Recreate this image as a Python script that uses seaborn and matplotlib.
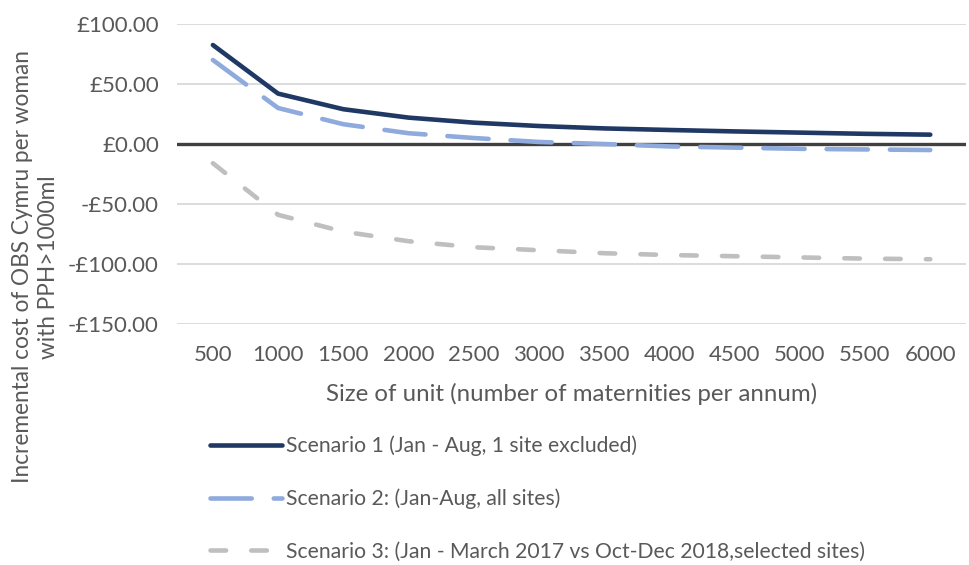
import matplotlib
matplotlib.use("Agg")
import matplotlib.pyplot as plt
import seaborn as sns
import pandas as pd
from matplotlib.ticker import FuncFormatter
from matplotlib.lines import Line2D

# Unit sizes (maternities per annum)
unit_sizes = [500, 1000, 1500, 2000, 2500, 3000, 3500, 4000, 4500, 5000, 5500, 6000]

# Incremental cost per woman with PPH>1000ml (£)
scenario_1 = [82.5, 42.0, 29.0, 22.0, 17.8, 15.0, 13.0, 11.7, 10.5, 9.5, 8.5, 7.8]
scenario_2 = [70.0, 30.0, 16.5, 9.0, 5.0, 1.7, 0.0, -2.0, -3.0, -4.0, -4.5, -5.0]
scenario_3 = [-16.0, -59.0, -73.0, -81.0, -86.0, -88.5, -91.0, -92.5, -93.5, -94.5, -95.5, -96.0]

series_names = [
    "Scenario 1 (Jan - Aug, 1 site excluded)",
    "Scenario 2: (Jan-Aug, all sites)",
    "Scenario 3: (Jan - March 2017 vs Oct-Dec 2018,selected sites)",
]
y_ticks = [100, 50, 0, -50, -100, -150]

colors = ["#203864", "#8faadc", "#bfbfbf"]
palette = dict(zip(series_names, colors))
dash_styles = [(), (9.0, 4.8), (3.4, 5.5)]
dash_map = dict(zip(series_names, [""] + dash_styles[1:]))

df = pd.concat([
    pd.DataFrame({"size": unit_sizes, "cost": vals, "scenario": name})
    for name, vals in zip(series_names, [scenario_1, scenario_2, scenario_3])
])

sns.set_style("white")
plt.rcParams["font.family"] = ["Lato", "DejaVu Sans"]
plt.rcParams["lines.dash_capstyle"] = "round"
plt.rcParams["lines.solid_capstyle"] = "round"

fig = plt.figure(figsize=(9.7, 5.65), dpi=100)
ax = fig.add_axes([0.1825, 0.4265, 0.8135, 0.531])

text_color = "#595959"
line_width = 3.3

# grid lines behind the series
for v in y_ticks:
    if v == 0:
        continue
    ax.axhline(v, color="#d9d9d9", lw=1.3, zorder=0)
ax.axhline(0, color="#404040", lw=2.4, zorder=1)

sns.lineplot(
    data=df, x="size", y="cost", hue="scenario", style="scenario",
    palette=palette, dashes=dash_map, linewidth=line_width, ax=ax, legend=False,
    hue_order=series_names[::-1], style_order=series_names[::-1], zorder=3,
)

ax.set_xlim(225, 6275)
ax.set_ylim(-150, 100)
ax.set_xticks(unit_sizes)
ax.set_xticklabels([str(s) for s in unit_sizes])
ax.set_yticks(y_ticks)


def money(v, pos):
    return f"-£{abs(v):.2f}" if v < 0 else f"£{v:.2f}"


ax.yaxis.set_major_formatter(FuncFormatter(money))
ax.tick_params(axis="both", length=0, labelsize=16, colors=text_color)
ax.tick_params(axis="x", pad=15)
ax.tick_params(axis="y", pad=13)
for s in ax.spines.values():
    s.set_visible(False)

ax.set_xlabel("Size of unit (number of maternities per annum)", fontsize=17.3,
              color=text_color, labelpad=13)
ax.set_ylabel("Incremental cost of OBS Cymru per woman\nwith PPH>1000ml", fontsize=16.3,
              color=text_color, linespacing=1.3)
ax.yaxis.set_label_coords(-0.149, 0.19)

handles = [
    Line2D([], [], color=c, lw=line_width, dashes=d) if d
    else Line2D([], [], color=c, lw=line_width)
    for c, d in zip(colors, dash_styles)
]
fig.legend(handles, series_names, loc="upper left", bbox_to_anchor=(0.2165, 0.2285),
           frameon=False, fontsize=15.2, labelcolor=text_color, handlelength=3.4,
           handletextpad=0.22, labelspacing=1.53, borderaxespad=0, borderpad=0)

fig.savefig("out.png", dpi=100)
